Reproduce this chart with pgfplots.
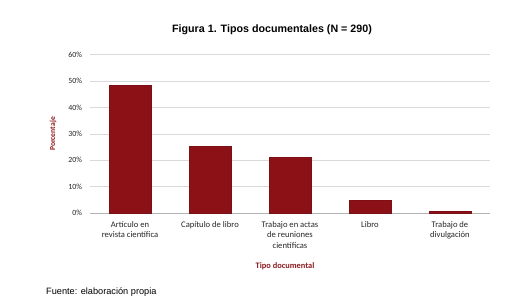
\documentclass[border=0pt]{standalone}
\usepackage{pgfplots}
\pgfplotsset{compat=1.18}
\usepackage{fontspec}
\setmainfont{Carlito}
\newfontfamily\arial{Liberation Sans}
\definecolor{barred}{HTML}{8C1116}
\definecolor{labred}{HTML}{8B1A1E}
\begin{document}
\begin{tikzpicture}[x=1pt,y=1pt]
\path[use as bounding box] (0,0) rectangle (531,306);
\begin{axis}[
  at={(90pt,93pt)}, anchor=south west,
  scale only axis, width=400pt, height=158.3pt,
  xmin=-0.5, xmax=4.5, ymin=0, ymax=60,
  ytick={0,10,20,30,40,50,60},
  yticklabel={\pgfmathprintnumber{\tick}\%},
  /pgf/number format/assume math mode=true,
  xtick={0,1,2,3,4},
  xticklabels={{Artículo en\\revista científica},{Capítulo de libro},{Trabajo en actas\\de reuniones\\científicas},{Libro},{Trabajo de\\divulgación}},
  xticklabel style={align=center, font=\fontsize{8.6}{10.7}\selectfont, text=black!85, yshift=-4.5pt},
  yticklabel style={font=\fontsize{7.9}{9}\selectfont, text=black!85, xshift=-4.4pt},
  major tick length=0pt,
  axis line style={draw=none},
  ymajorgrids, grid style={draw=black!15, line width=0.6pt},
  extra y ticks={0}, extra y tick labels={},
  extra y tick style={grid style={draw=black!30, line width=0.7pt}},
  ybar, bar width=41.7pt,
  clip=false,
]
\addplot[fill=barred, draw=barred!90!black] coordinates {(0,48.3) (1,25.2) (2,21.0) (3,4.8) (4,0.7)};
\end{axis}
\node[font=\arial\bfseries\fontsize{10.7}{12}\selectfont] at (272,276) {Figura 1. Tipos documentales (N = 290)};
\node[font=\bfseries\fontsize{8.4}{10}\selectfont, text=labred] at (285,39.3) {Tipo documental};
\node[font=\bfseries\fontsize{7.6}{9}\selectfont, text=labred, rotate=90] at (53,172) {Porcentaje};
\node[font=\arial\fontsize{9.2}{11}\selectfont, anchor=west, inner sep=0pt] at (46,14.3) {Fuente: elaboración propia};
\end{tikzpicture}
\end{document}
